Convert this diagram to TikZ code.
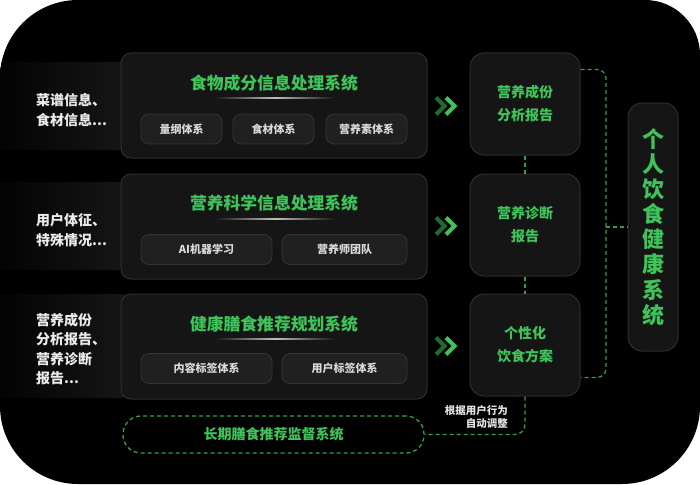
\documentclass[tikz,border=0pt]{standalone}
\usepackage{fontspec}
\setmainfont{Noto Sans CJK SC}
\usetikzlibrary{calc}
\definecolor{grn}{HTML}{3EC45A}
\definecolor{dgrn}{HTML}{1E6B2E}
\definecolor{boxfill}{HTML}{151515}
\definecolor{boxline}{HTML}{2E2E2E}
\definecolor{subfill}{HTML}{202020}
\definecolor{subline}{HTML}{353535}
\definecolor{dashg}{HTML}{2FA248}
\definecolor{band}{HTML}{181818}
\begin{document}
\begin{tikzpicture}[x=1pt,y=-1pt,
  sysbox/.style={draw=boxline, fill=boxfill, line width=1pt, rounded corners=10pt, minimum width=306pt, minimum height=105pt, inner sep=0pt},
  subbox/.style={draw=subline, fill=subfill, line width=0.8pt, rounded corners=8pt, minimum height=30pt, inner sep=0pt, font=\fontsize{11}{13}\selectfont\bfseries, text=black!15},
  systitle/.style={font=\fontsize{16.8}{18}\selectfont\bfseries, text=grn, inner sep=0pt},
  repbox/.style={draw=boxline, fill=boxfill, line width=1pt, rounded corners=14pt, minimum width=110pt, minimum height=102pt, inner sep=0pt, align=center, font=\fontsize{14}{23}\selectfont\bfseries, text=grn},
  tallbox/.style={draw=boxline, fill=boxfill, line width=1pt, rounded corners=14pt, minimum width=50pt, minimum height=248pt, inner sep=0pt, align=center, font=\fontsize{22}{25.1}\selectfont\bfseries, text=grn},
  sidelabel/.style={anchor=west, align=left, inner sep=0pt, font=\fontsize{14}{20}\selectfont\bfseries, text=black!8},
  dashln/.style={draw=dashg, line width=1.3pt, dash pattern=on 4pt off 3pt},
  chev/.style={line width=4pt, miter limit=10}
]
% background
\fill[white] (0,0) rectangle (700,484);
\fill[black, rounded corners=78pt] (0,0) rectangle (700,484);
\fill[white] (622,0) rectangle (700,78);
\fill[black, rounded corners=55pt] (560,0) rectangle (700,140);
% left bands
\begin{scope}
\clip[rounded corners=78pt] (0,0) rectangle (700,484);
\shade[left color=black, right color=band, rounded corners=20pt] (-20,62) rectangle (140,150);
\shade[left color=black, right color=band, rounded corners=20pt] (-20,182) rectangle (140,270);
\shade[left color=black, right color=band, rounded corners=20pt] (-20,294) rectangle (140,398);
\end{scope}

% system boxes
\node[sysbox] (s1) at (274,105.5) {};
\node[sysbox] (s2) at (274,226.5) {};
\node[sysbox] (s3) at (274,346.5) {};
\node[systitle] (t1) at (274,83) {食物成分信息处理系统};
\node[systitle] (t2) at (274,203) {营养科学信息处理系统};
\node[systitle] (t3) at (274,324) {健康膳食推荐规划系统};
\foreach \yy in {98,219,339}{
  \shade[left color=boxfill, right color=boxfill, middle color=black!25] (215,\yy-0.8) rectangle (335,\yy+0.8);
}
\node[subbox, minimum width=81pt] (a1) at (181.5,129) {量纲体系};
\node[subbox, minimum width=81pt] (b1) at (273.5,129) {食材体系};
\node[subbox, minimum width=81pt] (c1) at (366.5,129) {营养素体系};
\node[subbox, minimum width=131pt] (a2) at (206.5,249.5) {AI机器学习};
\node[subbox, minimum width=125pt] (b2) at (344.5,249.5) {营养师团队};
\node[subbox, minimum width=131pt] (a3) at (206.5,368.5) {内容标签体系};
\node[subbox, minimum width=125pt] (b3) at (344.5,368.5) {用户标签体系};

% side labels
\node[sidelabel] (l1) at (36,110) {菜谱信息、\\食材信息...};
\node[sidelabel] (l2) at (36,230) {用户体征、\\特殊情况...};
\node[sidelabel, font=\fontsize{14}{19.3}\selectfont\bfseries] (l3) at (36,349) {营养成份\\分析报告、\\营养诊断\\报告...};

% chevrons
\foreach \yy in {106,226,346}{
  \draw[chev, dgrn] (436,\yy-8.5) -- (444.5,\yy) -- (436,\yy+8.5);
  \draw[chev, grn] (446,\yy-8.5) -- (454.5,\yy) -- (446,\yy+8.5);
}

% report boxes
\node[repbox] (r1) at (525,104) {营养成份\\分析报告};
\node[repbox] (r2) at (525,225) {营养诊断\\报告};
\node[repbox] (r3) at (525,345) {个性化\\饮食方案};
\node[tallbox] (tall) at (653,227) {个\\人\\饮\\食\\健\\康\\系\\统};

% bottom supervision box
\node[draw=dashg, line width=1.3pt, dash pattern=on 4pt off 3pt, rounded corners=18pt, minimum width=301pt, minimum height=37pt, inner sep=0pt, font=\fontsize{14}{16}\selectfont\bfseries, text=grn] (bot) at (273.5,434.5) {长期膳食推荐监督系统};
\node[anchor=east, align=right, inner sep=0pt, font=\fontsize{10.5}{13}\selectfont\bfseries, text=black!10] (adj) at (508,416.5) {根据用户行为\\自动调整};

% connectors
\draw[dashln] (r1.south) -- (r2.north);
\draw[dashln] (r2.south) -- (r3.north);
\draw[dashln, rounded corners=10pt] (r3.south) |- (bot.east);
\coordinate (bt) at ($(r1.north east)+(0,17)$);
\coordinate (bb) at ($(r3.south east)+(0,-19)$);
\coordinate (bx) at (606,227);
\draw[dashln, rounded corners=9pt] (bt) -| (bx) |- (bb);
\draw[dashln] (bx) -- (tall.west);
\end{tikzpicture}
\end{document}
